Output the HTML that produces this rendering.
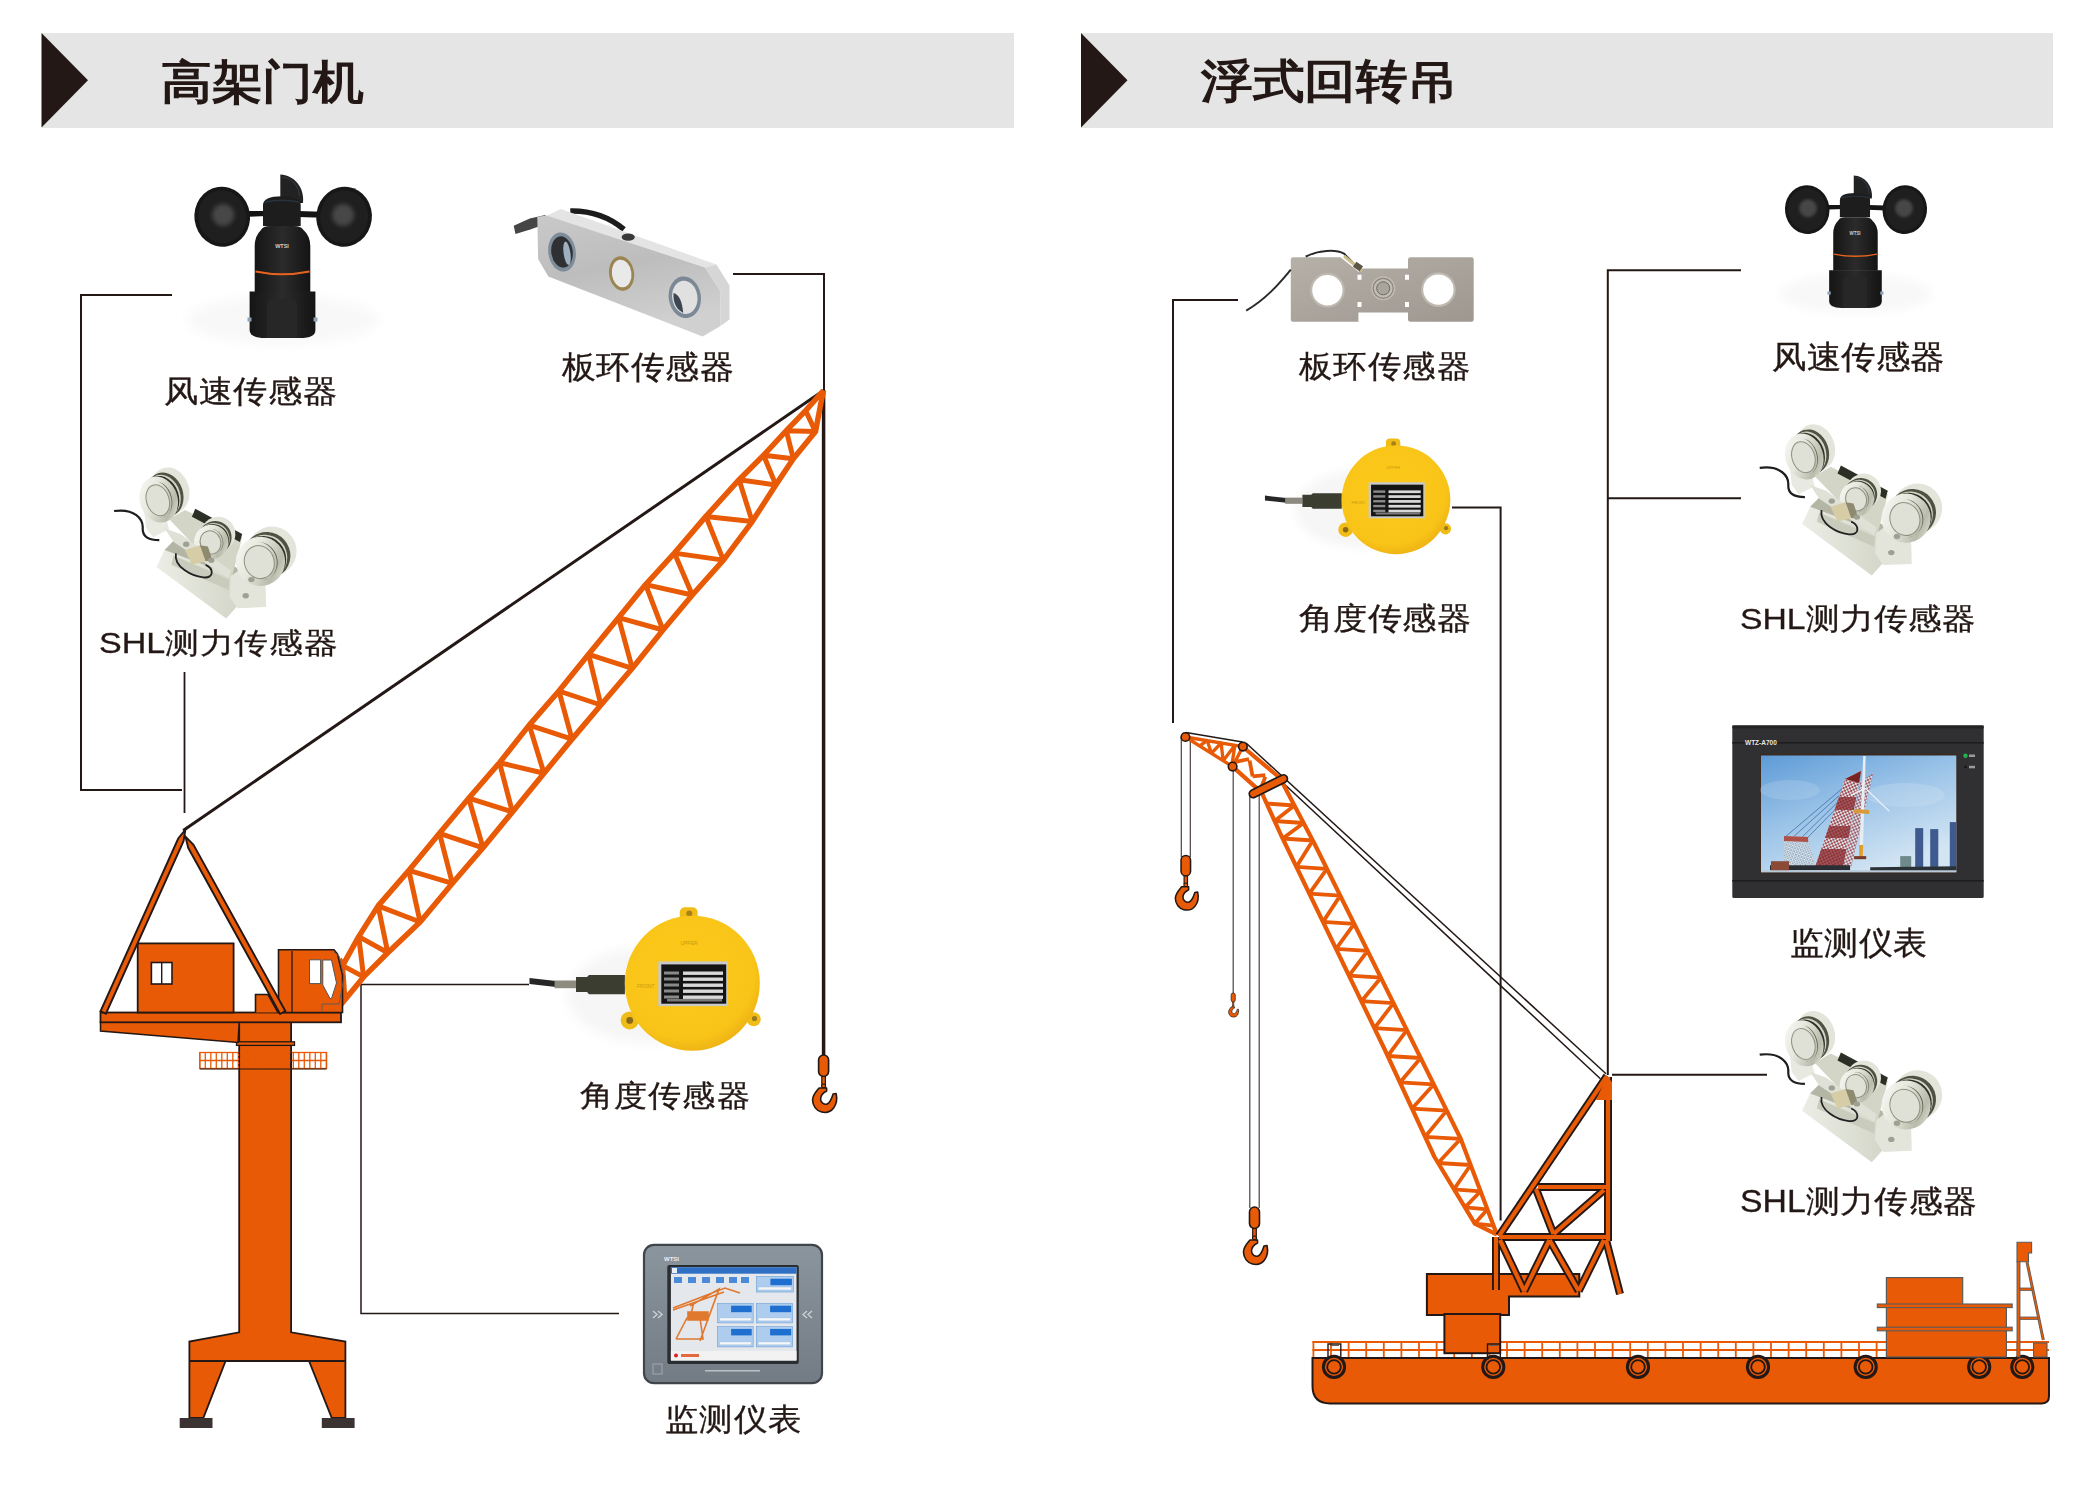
<!DOCTYPE html>
<html><head><meta charset="utf-8">
<style>
html,body{margin:0;padding:0;background:#fff;}
body{width:2097px;height:1487px;position:relative;overflow:hidden;font-family:"Liberation Sans",sans-serif;color:#231815;}
.bar{position:absolute;top:33px;height:94.5px;background:#e5e5e5;}
.t{position:absolute;white-space:nowrap;line-height:1;transform-origin:0 0;}
.title{font-size:51px;font-weight:400;-webkit-text-stroke:1.7px #231815;}
.lab{font-size:34.5px;font-weight:400;-webkit-text-stroke:0.35px #231815;}
svg{position:absolute;left:0;top:0;}
</style></head><body>
<div class="bar" style="left:41.5px;width:972px"></div>
<div class="bar" style="left:1081px;width:972px"></div>
<svg width="2097" height="1487" viewBox="0 0 2097 1487">
<polygon points="41.5,33 88,80.3 41.5,127.5" fill="#231815"/>
<polygon points="1081,33 1127.5,80.3 1081,127.5" fill="#231815"/>
<path d="M172,295 H81 V790 H182" fill="none" stroke="#231815" stroke-width="2"/>
<path d="M184.5,672 V813" fill="none" stroke="#231815" stroke-width="1.8"/>
<path d="M733,274 H824 V390" fill="none" stroke="#231815" stroke-width="2"/>
<path d="M529,984.4 H361 V1313.6 H619" fill="none" stroke="#231815" stroke-width="1.5"/>
<path d="M1238,300 H1173 V723" fill="none" stroke="#231815" stroke-width="2"/>
<path d="M1452,507.6 H1500.6 V1220.5" fill="none" stroke="#231815" stroke-width="2"/>
<path d="M1741,270.3 H1607.8 V1075" fill="none" stroke="#231815" stroke-width="2"/>
<path d="M1608,498.2 H1741" fill="none" stroke="#231815" stroke-width="2"/>
<path d="M1612,1074.7 H1767" fill="none" stroke="#231815" stroke-width="2"/>
<line x1="183.2" y1="830.5" x2="823.5" y2="390.5" stroke="#231815" stroke-width="3"/>
<line x1="823.6" y1="390" x2="823.6" y2="1056" stroke="#231815" stroke-width="3.5"/>
<polyline points="823.5,390.5 805.6,410.6 786.3,430.7 763.6,455.2 739.1,479.7 705.9,516.4 674.4,553.1 645.6,584.6 618.5,617.7 588.6,654.3 558.9,691.0 529.2,725.1 499.5,762.7 468.7,798.2 439.5,833.3 408.8,870.4 378.1,905.9 358.7,936.6 342.6,965.6 339.4,959.0" fill="none" stroke="#e85a06" stroke-width="5.5" stroke-linejoin="round" />
<polyline points="823.5,390.5 821.5,400.0 815.5,431.6 793.3,458.7 775.8,484.9 752.2,521.6 723.4,560.1 692.3,595.0 663.0,630.0 632.3,668.3 600.9,705.0 572.0,739.1 544.0,773.2 512.4,812.0 483.0,847.8 452.4,883.3 420.1,922.0 387.8,952.7 363.6,976.9 341.0,1004.4" fill="none" stroke="#e85a06" stroke-width="5.5" stroke-linejoin="round" />
<path d="M786.3,430.7L815.5,431.6M763.6,455.2L793.3,458.7M739.1,479.7L775.8,484.9M705.9,516.4L752.2,521.6M674.4,553.1L723.4,560.1M645.6,584.6L692.3,595.0M618.5,617.7L663.0,630.0M588.6,654.3L632.3,668.3M558.9,691.0L600.9,705.0M529.2,725.1L572.0,739.1M499.5,762.7L544.0,773.2M468.7,798.2L512.4,812.0M439.5,833.3L483.0,847.8M408.8,870.4L452.4,883.3M378.1,905.9L420.1,922.0M358.7,936.6L387.8,952.7M342.6,965.6L363.6,976.9M805.6,410.6L815.5,431.6M786.3,430.7L793.3,458.7M763.6,455.2L775.8,484.9M739.1,479.7L752.2,521.6M705.9,516.4L723.4,560.1M674.4,553.1L692.3,595.0M645.6,584.6L663.0,630.0M618.5,617.7L632.3,668.3M588.6,654.3L600.9,705.0M558.9,691.0L572.0,739.1M529.2,725.1L544.0,773.2M499.5,762.7L512.4,812.0M468.7,798.2L483.0,847.8M439.5,833.3L452.4,883.3M408.8,870.4L420.1,922.0M378.1,905.9L387.8,952.7M358.7,936.6L363.6,976.9M342.6,965.6L345,1000M340,960L341,1004" fill="none" stroke="#e85a06" stroke-width="5"/>
<g transform="translate(823.6,1055) scale(1.0)">
<rect x="-5" y="0" width="10" height="21.5" rx="5" fill="#e85a06" stroke="#231815" stroke-width="1.6"/>
<rect x="-1.8" y="21.5" width="3.6" height="8" fill="#e85a06" stroke="#231815" stroke-width="1.2"/>
<circle cx="0" cy="31" r="2" fill="#e85a06" stroke="#231815" stroke-width="1.2"/>
<path d="M-4.5,33 L3,33 L3,36 C-1,38 -3,41 -3,44 C-3,48 1,50 3.5,49 C6,48 8,44 9.5,39 L12.5,38.5 C13.5,43 13,49 10,53 C7,57 2,58 -2,57 C-7,56 -11,51 -11,45 C-11,40 -7,36 -4.5,33 Z" fill="#e85a06" stroke="#231815" stroke-width="1.6" stroke-linejoin="round"/>
</g>
<path d="M239.2,1022 V1332.3 L189.4,1341.5 V1418 H203.3 L225.6,1361 H309 L331.8,1418 H345.4 V1341.5 L291.1,1332.3 V1022 Z" fill="#e85a06" stroke="#231815" stroke-width="1.8"/>
<line x1="189.4" y1="1361" x2="345.4" y2="1361" stroke="#231815" stroke-width="1.8"/>
<rect x="179.7" y="1418" width="32.8" height="10" fill="#3b3331"/>
<rect x="321.8" y="1418" width="32.8" height="10" fill="#3b3331"/>
<g stroke="#e85a06" stroke-width="1.3" fill="none"><rect x="199.8" y="1052.5" width="126.8" height="16"/><line x1="199.8" y1="1060.5" x2="326.6" y2="1060.5"/><line x1="199.8" y1="1052.5" x2="199.8" y2="1068.5"/><line x1="205.3" y1="1052.5" x2="205.3" y2="1068.5"/><line x1="210.8" y1="1052.5" x2="210.8" y2="1068.5"/><line x1="216.3" y1="1052.5" x2="216.3" y2="1068.5"/><line x1="221.8" y1="1052.5" x2="221.8" y2="1068.5"/><line x1="227.3" y1="1052.5" x2="227.3" y2="1068.5"/><line x1="232.8" y1="1052.5" x2="232.8" y2="1068.5"/><line x1="238.3" y1="1052.5" x2="238.3" y2="1068.5"/><line x1="243.8" y1="1052.5" x2="243.8" y2="1068.5"/><line x1="249.3" y1="1052.5" x2="249.3" y2="1068.5"/><line x1="254.8" y1="1052.5" x2="254.8" y2="1068.5"/><line x1="260.3" y1="1052.5" x2="260.3" y2="1068.5"/><line x1="265.8" y1="1052.5" x2="265.8" y2="1068.5"/><line x1="271.3" y1="1052.5" x2="271.3" y2="1068.5"/><line x1="276.8" y1="1052.5" x2="276.8" y2="1068.5"/><line x1="282.3" y1="1052.5" x2="282.3" y2="1068.5"/><line x1="287.8" y1="1052.5" x2="287.8" y2="1068.5"/><line x1="293.3" y1="1052.5" x2="293.3" y2="1068.5"/><line x1="298.8" y1="1052.5" x2="298.8" y2="1068.5"/><line x1="304.3" y1="1052.5" x2="304.3" y2="1068.5"/><line x1="309.8" y1="1052.5" x2="309.8" y2="1068.5"/><line x1="315.3" y1="1052.5" x2="315.3" y2="1068.5"/><line x1="320.8" y1="1052.5" x2="320.8" y2="1068.5"/><line x1="326.3" y1="1052.5" x2="326.3" y2="1068.5"/></g>
<line x1="199.8" y1="1069" x2="326.6" y2="1069" stroke="#231815" stroke-width="1.2"/>
<line x1="239.2" y1="1052" x2="239.2" y2="1069" stroke="#231815" stroke-width="1.5" stroke-dasharray="2,2"/>
<line x1="291.1" y1="1052" x2="291.1" y2="1069" stroke="#231815" stroke-width="1.5"/>
<rect x="236.5" y="1041.8" width="58" height="3.6" fill="#e85a06" stroke="#231815" stroke-width="1.3"/>
<path d="M100.5,1022 V1031 L238,1042.5 L239.2,1022 Z" fill="#e85a06" stroke="#231815" stroke-width="1.5"/>
<rect x="100.5" y="1012.5" width="240.5" height="9.8" fill="#e85a06" stroke="#231815" stroke-width="1.8"/>
<rect x="137.7" y="943.4" width="95.9" height="69.1" fill="#e85a06" stroke="#231815" stroke-width="1.8"/>
<rect x="151.4" y="962.5" width="20.6" height="21.5" fill="#fff" stroke="#231815" stroke-width="1.6"/>
<line x1="161.7" y1="962.5" x2="161.7" y2="984" stroke="#231815" stroke-width="1.4"/>
<path d="M255.5,1012.5 V994.5 H268 L278,1012.5" fill="#e85a06" stroke="#231815" stroke-width="1.6"/>
<path d="M278.5,1012.5 V949.8 H334 L337.5,954 L342.5,975 L342.5,1012.5 Z" fill="#e85a06" stroke="#231815" stroke-width="1.6"/>
<line x1="292" y1="951" x2="292" y2="1012.5" stroke="#231815" stroke-width="1.3"/>
<path d="M334,952 L339,956 L344,977 L339,1004 H322 V1012" fill="none" stroke="#6b5b55" stroke-width="1"/>
<rect x="309.5" y="959.8" width="11.1" height="23.8" fill="#fff" stroke="#555" stroke-width="1"/>
<path d="M322.8,960 H331.5 L336.5,983 L331.5,998.5 H330 L322.8,985 Z" fill="#fff" stroke="#555" stroke-width="1"/>
<polygon points="185.5,836.7 188.2,847.8 280.1,1014.0 285.3,1011.0 193.5,844.9" fill="#e85a06" stroke="#231815" stroke-width="1.9" stroke-linejoin="miter"/>
<polygon points="185.4,829.7 178.2,838.5 100.5,1011.3 105.9,1013.7 183.6,840.9" fill="#e85a06" stroke="#231815" stroke-width="1.9" stroke-linejoin="miter"/>
<g stroke="#4a4240" stroke-width="1.2" fill="none"><line x1="1181.3" y1="737" x2="1181.3" y2="857"/><line x1="1190.3" y1="737" x2="1190.3" y2="857"/><line x1="1233.2" y1="767" x2="1233.2" y2="994"/><line x1="1249.8" y1="792" x2="1249.8" y2="1208"/><line x1="1259.2" y1="790" x2="1259.2" y2="1208"/></g>
<g stroke="#231815" stroke-width="1.5" fill="none"><line x1="1186" y1="732.5" x2="1242.5" y2="742"/><line x1="1246" y1="743" x2="1606" y2="1073.7"/><line x1="1281" y1="781" x2="1600.4" y2="1078.7"/></g>
<polyline points="1243.0,747.0 1280.0,778.0 1315.0,844.7 1460.7,1138.8 1497.0,1234.7" fill="none" stroke="#e85a06" stroke-width="4.2" stroke-linejoin="round" />
<polyline points="1232.6,766.6 1261.7,792.6 1281.0,835.0 1384.0,1048.0 1434.5,1157.0 1474.8,1223.6 1497.0,1234.7" fill="none" stroke="#e85a06" stroke-width="4.2" stroke-linejoin="round" />
<path d="M1266.7,803.5L1294.4,805.5M1274.6,821.0L1303.6,823.0M1282.7,838.5L1312.8,840.5M1296.4,866.8L1326.9,868.8M1309.3,893.6L1340.2,895.6M1323.0,921.9L1354.2,923.9M1336.0,948.8L1367.6,950.8M1349.0,975.7L1380.9,977.7M1361.4,1001.2L1393.5,1003.2M1374.4,1028.1L1406.8,1030.1M1387.7,1056.0L1420.7,1058.0M1399.9,1082.4L1433.7,1084.4M1412.1,1108.6L1446.7,1110.6M1425.1,1136.8L1460.7,1138.8M1438.1,1163.0L1470.6,1165.0M1454.0,1189.3L1480.6,1191.3M1465.0,1207.4L1487.4,1209.4M1474.8,1223.6L1493.6,1225.6M1294.4,805.5L1274.6,821.0M1303.6,823.0L1282.7,838.5M1312.8,840.5L1296.4,866.8M1326.9,868.8L1309.3,893.6M1340.2,895.6L1323.0,921.9M1354.2,923.9L1336.0,948.8M1367.6,950.8L1349.0,975.7M1380.9,977.7L1361.4,1001.2M1393.5,1003.2L1374.4,1028.1M1406.8,1030.1L1387.7,1056.0M1420.7,1058.0L1399.9,1082.4M1433.7,1084.4L1412.1,1108.6M1446.7,1110.6L1425.1,1136.8M1460.7,1138.8L1438.1,1163.0M1470.6,1165.0L1454.0,1189.3M1480.6,1191.3L1465.0,1207.4M1487.4,1209.4L1474.8,1223.6M1235.7,761.8L1249,759 M1249.6,760.6L1252.6,776.3 M1252.6,776.3L1265.3,775.1 M1265.3,776.9L1261.1,787.8" fill="none" stroke="#e85a06" stroke-width="3.8"/>
<path d="M1185.4,737 L1242.9,746.6 M1185.4,737 L1232.6,766.6 M1242.9,746.6 L1232.6,766.6M1199.6,745.9 L1207.2,740.6 L1211.4,753.3 L1221.1,743.0 L1223.2,760.7 L1234.9,745.3 M1234.9,745.3 L1231.7,766.0" fill="none" stroke="#e85a06" stroke-width="3.3" stroke-linejoin="round"/>
<circle cx="1185.4" cy="737" r="4.3" fill="#e85a06" stroke="#231815" stroke-width="1.6"/>
<circle cx="1242.9" cy="746.6" r="4.3" fill="#e85a06" stroke="#231815" stroke-width="1.6"/>
<circle cx="1232.6" cy="766.6" r="4.3" fill="#e85a06" stroke="#231815" stroke-width="1.6"/>
<line x1="1253.2" y1="793.8" x2="1283.5" y2="778.7" stroke="#231815" stroke-width="9.5" stroke-linecap="round"/>
<line x1="1253.2" y1="793.8" x2="1283.5" y2="778.7" stroke="#e85a06" stroke-width="6" stroke-linecap="round"/>
<g transform="translate(1185.8,855.5) scale(0.95)">
<rect x="-5" y="0" width="10" height="21.5" rx="5" fill="#e85a06" stroke="#231815" stroke-width="1.6"/>
<rect x="-1.8" y="21.5" width="3.6" height="8" fill="#e85a06" stroke="#231815" stroke-width="1.2"/>
<circle cx="0" cy="31" r="2" fill="#e85a06" stroke="#231815" stroke-width="1.2"/>
<path d="M-4.5,33 L3,33 L3,36 C-1,38 -3,41 -3,44 C-3,48 1,50 3.5,49 C6,48 8,44 9.5,39 L12.5,38.5 C13.5,43 13,49 10,53 C7,57 2,58 -2,57 C-7,56 -11,51 -11,45 C-11,40 -7,36 -4.5,33 Z" fill="#e85a06" stroke="#231815" stroke-width="1.6" stroke-linejoin="round"/>
</g>
<g transform="translate(1254.5,1207) scale(1.0)">
<rect x="-5" y="0" width="10" height="21.5" rx="5" fill="#e85a06" stroke="#231815" stroke-width="1.6"/>
<rect x="-1.8" y="21.5" width="3.6" height="8" fill="#e85a06" stroke="#231815" stroke-width="1.2"/>
<circle cx="0" cy="31" r="2" fill="#e85a06" stroke="#231815" stroke-width="1.2"/>
<path d="M-4.5,33 L3,33 L3,36 C-1,38 -3,41 -3,44 C-3,48 1,50 3.5,49 C6,48 8,44 9.5,39 L12.5,38.5 C13.5,43 13,49 10,53 C7,57 2,58 -2,57 C-7,56 -11,51 -11,45 C-11,40 -7,36 -4.5,33 Z" fill="#e85a06" stroke="#231815" stroke-width="1.6" stroke-linejoin="round"/>
</g>
<g transform="translate(1233.2,993) scale(0.42)">
<rect x="-5" y="0" width="10" height="21.5" rx="5" fill="#e85a06" stroke="#231815" stroke-width="1.6"/>
<rect x="-1.8" y="21.5" width="3.6" height="8" fill="#e85a06" stroke="#231815" stroke-width="1.2"/>
<circle cx="0" cy="31" r="2" fill="#e85a06" stroke="#231815" stroke-width="1.2"/>
<path d="M-4.5,33 L3,33 L3,36 C-1,38 -3,41 -3,44 C-3,48 1,50 3.5,49 C6,48 8,44 9.5,39 L12.5,38.5 C13.5,43 13,49 10,53 C7,57 2,58 -2,57 C-7,56 -11,51 -11,45 C-11,40 -7,36 -4.5,33 Z" fill="#e85a06" stroke="#231815" stroke-width="1.6" stroke-linejoin="round"/>
</g>
<path d="M1426.9,1274 H1579.3 V1296.5 H1509 V1315 H1426.9 Z" fill="#e85a06" stroke="#231815" stroke-width="2"/>
<line x1="1607" y1="1076" x2="1499" y2="1236" stroke="#231815" stroke-width="8"/>
<line x1="1608" y1="1077" x2="1608" y2="1241" stroke="#231815" stroke-width="8"/>
<line x1="1538" y1="1187" x2="1608" y2="1187" stroke="#231815" stroke-width="8"/>
<line x1="1499" y1="1237" x2="1608" y2="1237" stroke="#231815" stroke-width="8"/>
<line x1="1536" y1="1189" x2="1553.5" y2="1234" stroke="#231815" stroke-width="8"/>
<line x1="1553.5" y1="1234" x2="1604" y2="1190" stroke="#231815" stroke-width="8"/>
<line x1="1496" y1="1237" x2="1496" y2="1290" stroke="#231815" stroke-width="8"/>
<line x1="1500" y1="1240" x2="1524.2" y2="1291" stroke="#231815" stroke-width="8"/>
<line x1="1524.2" y1="1291" x2="1549.5" y2="1240" stroke="#231815" stroke-width="8"/>
<line x1="1549.5" y1="1240" x2="1578.7" y2="1291" stroke="#231815" stroke-width="8"/>
<line x1="1578.7" y1="1291" x2="1604" y2="1240" stroke="#231815" stroke-width="8"/>
<line x1="1606" y1="1240" x2="1620" y2="1294" stroke="#231815" stroke-width="8"/>
<line x1="1607" y1="1076" x2="1499" y2="1236" stroke="#e85a06" stroke-width="4.2"/>
<line x1="1608" y1="1077" x2="1608" y2="1241" stroke="#e85a06" stroke-width="4.2"/>
<line x1="1538" y1="1187" x2="1608" y2="1187" stroke="#e85a06" stroke-width="4.2"/>
<line x1="1499" y1="1237" x2="1608" y2="1237" stroke="#e85a06" stroke-width="4.2"/>
<line x1="1536" y1="1189" x2="1553.5" y2="1234" stroke="#e85a06" stroke-width="4.2"/>
<line x1="1553.5" y1="1234" x2="1604" y2="1190" stroke="#e85a06" stroke-width="4.2"/>
<line x1="1496" y1="1237" x2="1496" y2="1290" stroke="#e85a06" stroke-width="4.2"/>
<line x1="1500" y1="1240" x2="1524.2" y2="1291" stroke="#e85a06" stroke-width="4.2"/>
<line x1="1524.2" y1="1291" x2="1549.5" y2="1240" stroke="#e85a06" stroke-width="4.2"/>
<line x1="1549.5" y1="1240" x2="1578.7" y2="1291" stroke="#e85a06" stroke-width="4.2"/>
<line x1="1578.7" y1="1291" x2="1604" y2="1240" stroke="#e85a06" stroke-width="4.2"/>
<line x1="1606" y1="1240" x2="1620" y2="1294" stroke="#e85a06" stroke-width="4.2"/>
<polygon points="1607,1076 1612,1082 1612,1100 1596,1100" fill="#e85a06"/>
<g stroke="#e85a06" stroke-width="1.8" fill="none"><line x1="1312.5" y1="1342" x2="2049" y2="1342"/><line x1="1312.5" y1="1350" x2="2049" y2="1350"/><line x1="1313.4" y1="1341" x2="1313.4" y2="1358"/><line x1="1331.0" y1="1341" x2="1331.0" y2="1358"/><line x1="1348.6" y1="1341" x2="1348.6" y2="1358"/><line x1="1366.2" y1="1341" x2="1366.2" y2="1358"/><line x1="1383.8" y1="1341" x2="1383.8" y2="1358"/><line x1="1401.4" y1="1341" x2="1401.4" y2="1358"/><line x1="1419.0" y1="1341" x2="1419.0" y2="1358"/><line x1="1436.6" y1="1341" x2="1436.6" y2="1358"/><line x1="1454.2" y1="1341" x2="1454.2" y2="1358"/><line x1="1471.8" y1="1341" x2="1471.8" y2="1358"/><line x1="1489.4" y1="1341" x2="1489.4" y2="1358"/><line x1="1507.0" y1="1341" x2="1507.0" y2="1358"/><line x1="1524.6" y1="1341" x2="1524.6" y2="1358"/><line x1="1542.2" y1="1341" x2="1542.2" y2="1358"/><line x1="1559.8" y1="1341" x2="1559.8" y2="1358"/><line x1="1577.4" y1="1341" x2="1577.4" y2="1358"/><line x1="1595.0" y1="1341" x2="1595.0" y2="1358"/><line x1="1612.6" y1="1341" x2="1612.6" y2="1358"/><line x1="1630.2" y1="1341" x2="1630.2" y2="1358"/><line x1="1647.8" y1="1341" x2="1647.8" y2="1358"/><line x1="1665.4" y1="1341" x2="1665.4" y2="1358"/><line x1="1683.0" y1="1341" x2="1683.0" y2="1358"/><line x1="1700.6" y1="1341" x2="1700.6" y2="1358"/><line x1="1718.2" y1="1341" x2="1718.2" y2="1358"/><line x1="1735.8" y1="1341" x2="1735.8" y2="1358"/><line x1="1753.4" y1="1341" x2="1753.4" y2="1358"/><line x1="1771.0" y1="1341" x2="1771.0" y2="1358"/><line x1="1788.6" y1="1341" x2="1788.6" y2="1358"/><line x1="1806.2" y1="1341" x2="1806.2" y2="1358"/><line x1="1823.8" y1="1341" x2="1823.8" y2="1358"/><line x1="1841.4" y1="1341" x2="1841.4" y2="1358"/><line x1="1859.0" y1="1341" x2="1859.0" y2="1358"/><line x1="1876.6" y1="1341" x2="1876.6" y2="1358"/><line x1="1894.2" y1="1341" x2="1894.2" y2="1358"/><line x1="1911.8" y1="1341" x2="1911.8" y2="1358"/><line x1="1929.4" y1="1341" x2="1929.4" y2="1358"/><line x1="1947.0" y1="1341" x2="1947.0" y2="1358"/><line x1="1964.6" y1="1341" x2="1964.6" y2="1358"/><line x1="1982.2" y1="1341" x2="1982.2" y2="1358"/><line x1="1999.8" y1="1341" x2="1999.8" y2="1358"/><line x1="2017.4" y1="1341" x2="2017.4" y2="1358"/><line x1="2035.0" y1="1341" x2="2035.0" y2="1358"/></g>
<rect x="1444.4" y="1314" width="55.8" height="39.2" fill="#e85a06" stroke="#231815" stroke-width="2"/>
<path d="M1312.5,1358 H2049 V1396 Q2049,1403.4 2042,1403.4 H1330 Q1312.5,1403.4 1312.5,1386 Z" fill="#e85a06" stroke="#231815" stroke-width="2"/>
<circle cx="1334" cy="1366.9" r="10.6" fill="#e85a06" stroke="#231815" stroke-width="3"/>
<circle cx="1334" cy="1366.9" r="6.8" fill="#e85a06" stroke="#231815" stroke-width="1.8"/>
<circle cx="1493.3" cy="1366.9" r="10.6" fill="#e85a06" stroke="#231815" stroke-width="3"/>
<circle cx="1493.3" cy="1366.9" r="6.8" fill="#e85a06" stroke="#231815" stroke-width="1.8"/>
<circle cx="1638" cy="1366.9" r="10.6" fill="#e85a06" stroke="#231815" stroke-width="3"/>
<circle cx="1638" cy="1366.9" r="6.8" fill="#e85a06" stroke="#231815" stroke-width="1.8"/>
<circle cx="1758" cy="1366.9" r="10.6" fill="#e85a06" stroke="#231815" stroke-width="3"/>
<circle cx="1758" cy="1366.9" r="6.8" fill="#e85a06" stroke="#231815" stroke-width="1.8"/>
<circle cx="1865.7" cy="1366.9" r="10.6" fill="#e85a06" stroke="#231815" stroke-width="3"/>
<circle cx="1865.7" cy="1366.9" r="6.8" fill="#e85a06" stroke="#231815" stroke-width="1.8"/>
<circle cx="1979.2" cy="1366.9" r="10.6" fill="#e85a06" stroke="#231815" stroke-width="3"/>
<circle cx="1979.2" cy="1366.9" r="6.8" fill="#e85a06" stroke="#231815" stroke-width="1.8"/>
<circle cx="2022.3" cy="1366.9" r="10.6" fill="#e85a06" stroke="#231815" stroke-width="3"/>
<circle cx="2022.3" cy="1366.9" r="6.8" fill="#e85a06" stroke="#231815" stroke-width="1.8"/>
<path d="M1328,1357 V1344 H1340.8 V1357" fill="none" stroke="#231815" stroke-width="1.4"/><path d="M1330,1345.5 H1339" stroke="#6b5b55" stroke-width="1"/>
<path d="M1487.5,1357 V1344 H1500.3 V1357" fill="none" stroke="#231815" stroke-width="1.4"/><path d="M1489.5,1345.5 H1498.5" stroke="#6b5b55" stroke-width="1"/>
<rect x="1886.4" y="1277.6" width="76.3" height="28.8" fill="#e85a06" stroke="#5b5b5b" stroke-width="1.2"/>
<rect x="1886.4" y="1306.4" width="120" height="50.6" fill="#e85a06" stroke="#5b5b5b" stroke-width="1.2"/>
<rect x="1877.3" y="1304" width="134.9" height="3.6" fill="#e85a06" stroke="#5b5b5b" stroke-width="1.1"/>
<rect x="1877.3" y="1327.2" width="134.9" height="3.6" fill="#e85a06" stroke="#5b5b5b" stroke-width="1.1"/>
<path d="M2017,1242.3 H2031.6 V1253 H2028.5 V1261.7 H2017 Z" fill="#e85a06" stroke="#5b5b5b" stroke-width="1.1"/>
<rect x="2017" y="1261.7" width="3" height="95.3" fill="#e85a06" stroke="#5b5b5b" stroke-width="0.9"/>
<line x1="2027" y1="1262" x2="2043.3" y2="1340" stroke="#5b5b5b" stroke-width="3"/>
<line x1="2027" y1="1262" x2="2043.3" y2="1340" stroke="#e85a06" stroke-width="1.4"/>
<rect x="2020" y="1288" width="12" height="2.5" fill="#e85a06" stroke="#5b5b5b" stroke-width="0.8"/>
<rect x="2020" y="1317" width="18" height="2.5" fill="#e85a06" stroke="#5b5b5b" stroke-width="0.8"/>
<rect x="2033.6" y="1343" width="13.4" height="14" fill="#e85a06" stroke="#5b5b5b" stroke-width="1.1"/>
<defs>
<radialGradient id="cupg" cx="0.5" cy="0.45" r="0.5"><stop offset="0" stop-color="#505050"/><stop offset="0.45" stop-color="#3a3a3a"/><stop offset="0.7" stop-color="#1b1b1b"/><stop offset="1" stop-color="#121212"/></radialGradient>
<linearGradient id="bodyg" x1="0" x2="1" y1="0" y2="0"><stop offset="0" stop-color="#151515"/><stop offset="0.5" stop-color="#2b2b2b"/><stop offset="1" stop-color="#141414"/></linearGradient>
<radialGradient id="shadowg" cx="0.5" cy="0.5" r="0.5"><stop offset="0" stop-color="#e9e9e9"/><stop offset="1" stop-color="#ffffff" stop-opacity="0"/></radialGradient>
<linearGradient id="platef" x1="0" x2="0.3" y1="0" y2="1"><stop offset="0" stop-color="#c9c9c9"/><stop offset="0.5" stop-color="#bdbdbd"/><stop offset="1" stop-color="#d0d0d0"/></linearGradient>
<linearGradient id="plate2" x1="0" x2="1" y1="0" y2="1"><stop offset="0" stop-color="#b5b0a8"/><stop offset="1" stop-color="#9d978f"/></linearGradient>
<radialGradient id="yel" cx="0.45" cy="0.4" r="0.6"><stop offset="0" stop-color="#fcca1a"/><stop offset="0.85" stop-color="#f9c418"/><stop offset="1" stop-color="#f0b514"/></radialGradient>
<linearGradient id="metal" x1="0" x2="1" y1="0" y2="1"><stop offset="0" stop-color="#e2e3da"/><stop offset="0.5" stop-color="#bfc1b3"/><stop offset="1" stop-color="#d9dad0"/></linearGradient>
<linearGradient id="sky" x1="0" x2="0" y1="0" y2="1"><stop offset="0" stop-color="#6ea3d9"/><stop offset="0.6" stop-color="#a9cbeb"/><stop offset="1" stop-color="#d2e4f2"/></linearGradient>
<linearGradient id="mon1" x1="0" x2="0" y1="0" y2="1"><stop offset="0" stop-color="#8b959d"/><stop offset="1" stop-color="#737c84"/></linearGradient>
<linearGradient id="shlw" x1="0" x2="1" y1="0" y2="1"><stop offset="0" stop-color="#fafbf7"/><stop offset="0.4" stop-color="#e6e8de"/><stop offset="0.75" stop-color="#b9bcab"/><stop offset="1" stop-color="#eef0e8"/></linearGradient>
<linearGradient id="shlb" x1="0" x2="1" y1="0" y2="0"><stop offset="0" stop-color="#eceee6"/><stop offset="1" stop-color="#d3d6c8"/></linearGradient><linearGradient id="sky2" x1="0" x2="0.6" y1="0" y2="1"><stop offset="0" stop-color="#5d9bd7"/><stop offset="0.5" stop-color="#9cc4e8"/><stop offset="1" stop-color="#d3e5f3"/></linearGradient>
<pattern id="latt" width="4" height="4" patternUnits="userSpaceOnUse" patternTransform="rotate(20)"><rect width="4" height="4" fill="#dde4ec"/><path d="M0,0 L4,4 M4,0 L0,4" stroke="#9a3a3e" stroke-width="0.9"/></pattern>
<pattern id="latt2" width="3" height="3" patternUnits="userSpaceOnUse" patternTransform="rotate(20)"><rect width="3" height="3" fill="#dfe8f0"/><path d="M0,0 L3,3 M3,0 L0,3" stroke="#8aa0b8" stroke-width="0.7"/></pattern><filter id="blur2" x="-50%" y="-50%" width="200%" height="200%"><feGaussianBlur stdDeviation="2"/></filter>
<filter id="blur6" x="-50%" y="-50%" width="200%" height="200%"><feGaussianBlur stdDeviation="6"/></filter>
</defs>
<g>
<ellipse cx="283" cy="320" rx="95" ry="24" fill="#f8f8f8" filter="url(#blur6)"/>
<path d="M280.3,174.6 C294,175.2 304.5,187 303,203 L280.3,203 Z" fill="#222"/><path d="M282,177 C292,178 299,186 299.5,196" fill="none" stroke="#3a4a5a" stroke-width="1.2" opacity="0.6"/>
<path d="M240,211 L268,211 L268,216 L240,217 Z M298,211 L330,212 L330,218 L298,217 Z" fill="#141414"/>
<ellipse cx="222.2" cy="216.7" rx="27.8" ry="30" transform="rotate(-8 222.2 216.7)" fill="#171717"/>
<ellipse cx="222.2" cy="216.7" rx="24" ry="26.5" transform="rotate(-8 222.2 216.7)" fill="#1f1f1f"/>
<circle cx="223.2" cy="215" r="11" fill="#474747" filter="url(#blur2)"/>
<ellipse cx="344.1" cy="216.7" rx="27.8" ry="30" transform="rotate(8 344.1 216.7)" fill="#171717"/>
<ellipse cx="344.1" cy="216.7" rx="24" ry="26.5" transform="rotate(8 344.1 216.7)" fill="#1f1f1f"/>
<circle cx="343.1" cy="215" r="11" fill="#474747" filter="url(#blur2)"/>
<path d="M263,226 V205 Q263,196.3 282,196.3 Q300.7,196.3 300.7,205 V226 Z" fill="#1d1d1d"/>
<path d="M265,202 Q282,198.5 299,202" fill="none" stroke="#2f4257" stroke-width="1.5" opacity="0.6"/>
<path d="M254.7,292 V246 Q254.7,236 261,230 Q263,226 270,226 H294 Q301,226 303.5,230 Q310.3,236 310.3,246 V292 Z" fill="url(#bodyg)"/>
<path d="M255.5,271.5 Q282.5,277 309.5,271.5" fill="none" stroke="#e8641e" stroke-width="1.8"/>
<path d="M249.6,291.5 H315.4 V330 Q315.4,338 300,338 H265 Q249.6,338 249.6,330 Z" fill="url(#bodyg)"/>
<path d="M267,338 V305 Q267,299 273,299 H291 Q297,299 297,305 V338 Z" fill="#272727"/>
<rect x="247.5" y="317.5" width="4" height="4" fill="#8fa3b8"/><rect x="313.5" y="317.5" width="4" height="4" fill="#8fa3b8"/>
<text x="282" y="248" font-size="5.5" font-weight="bold" fill="#d0d0d0" text-anchor="middle" font-family="Liberation Sans">WTSI</text>
</g>
<g transform="translate(1856,209.6) scale(0.8,0.812) translate(-283.15,-216.7)"><g>
<ellipse cx="283" cy="320" rx="95" ry="24" fill="#f8f8f8" filter="url(#blur6)"/>
<path d="M280.3,174.6 C294,175.2 304.5,187 303,203 L280.3,203 Z" fill="#222"/><path d="M282,177 C292,178 299,186 299.5,196" fill="none" stroke="#3a4a5a" stroke-width="1.2" opacity="0.6"/>
<path d="M240,211 L268,211 L268,216 L240,217 Z M298,211 L330,212 L330,218 L298,217 Z" fill="#141414"/>
<ellipse cx="222.2" cy="216.7" rx="27.8" ry="30" transform="rotate(-8 222.2 216.7)" fill="#171717"/>
<ellipse cx="222.2" cy="216.7" rx="24" ry="26.5" transform="rotate(-8 222.2 216.7)" fill="#1f1f1f"/>
<circle cx="223.2" cy="215" r="11" fill="#474747" filter="url(#blur2)"/>
<ellipse cx="344.1" cy="216.7" rx="27.8" ry="30" transform="rotate(8 344.1 216.7)" fill="#171717"/>
<ellipse cx="344.1" cy="216.7" rx="24" ry="26.5" transform="rotate(8 344.1 216.7)" fill="#1f1f1f"/>
<circle cx="343.1" cy="215" r="11" fill="#474747" filter="url(#blur2)"/>
<path d="M263,226 V205 Q263,196.3 282,196.3 Q300.7,196.3 300.7,205 V226 Z" fill="#1d1d1d"/>
<path d="M265,202 Q282,198.5 299,202" fill="none" stroke="#2f4257" stroke-width="1.5" opacity="0.6"/>
<path d="M254.7,292 V246 Q254.7,236 261,230 Q263,226 270,226 H294 Q301,226 303.5,230 Q310.3,236 310.3,246 V292 Z" fill="url(#bodyg)"/>
<path d="M255.5,271.5 Q282.5,277 309.5,271.5" fill="none" stroke="#e8641e" stroke-width="1.8"/>
<path d="M249.6,291.5 H315.4 V330 Q315.4,338 300,338 H265 Q249.6,338 249.6,330 Z" fill="url(#bodyg)"/>
<path d="M267,338 V305 Q267,299 273,299 H291 Q297,299 297,305 V338 Z" fill="#272727"/>
<rect x="247.5" y="317.5" width="4" height="4" fill="#8fa3b8"/><rect x="313.5" y="317.5" width="4" height="4" fill="#8fa3b8"/>
<text x="282" y="248" font-size="5.5" font-weight="bold" fill="#d0d0d0" text-anchor="middle" font-family="Liberation Sans">WTSI</text>
</g></g>
<g>
<polygon points="513.7,225.8 529.8,218.6 545.3,215.0 547.1,223.4 531.0,229.3 515.5,234.1" fill="#454545"/>
<path d="M570.3,210.9 Q601.3,210.3 624.0,229.3" fill="none" stroke="#1c1c1c" stroke-width="5.5"/>
<polygon points="547.1,215.6 560.8,209.1 716.4,264.5 705.1,267.5" fill="#e4e4e4"/>
<polygon points="537.3,216.8 547.1,215.6 705.1,267.5 720.6,291.3 720.6,325.9 702.7,336.6 548.3,276.4 538.1,259.1" fill="url(#platef)"/>
<polygon points="705.1,267.5 716.4,264.5 729.5,285.4 729.5,319.4 720.6,325.9 720.6,291.3" fill="#d6d6d6"/>
<ellipse cx="562.0" cy="252.0" rx="13.7" ry="19.7" fill="#7f8c99" transform="rotate(-8 562.0 252.0)"/>
<ellipse cx="562.0" cy="252.0" rx="10.7" ry="15.7" fill="#2e3033" transform="rotate(-8 562.0 252.0)"/>
<ellipse cx="621.6" cy="273.5" rx="12.5" ry="17.3" fill="#9b8550" transform="rotate(-8 621.6 273.5)"/>
<ellipse cx="621.6" cy="273.5" rx="9.8" ry="13.8" fill="#e9e9e9" transform="rotate(-8 621.6 273.5)"/>
<ellipse cx="684.8" cy="297.3" rx="16.1" ry="20.9" fill="#7b8896" transform="rotate(-8 684.8 297.3)"/>
<ellipse cx="684.8" cy="297.3" rx="12.6" ry="16.7" fill="#e0e0e0" transform="rotate(-8 684.8 297.3)"/>
<path d="M673.5,293.1 Q681.6,295.2 683.2,312.9 Q672.7,307.7 673.5,293.1 Z" fill="#3d4650"/>
<ellipse cx="566.8" cy="254.0" rx="3.4" ry="11.8" fill="#9fb0c0" transform="rotate(-8 562.0 252.0)"/>
<ellipse cx="628.2" cy="237.1" rx="6.6" ry="3.6" fill="#3a3a3a"/>
</g>
<g>
<path d="M1358.4,321.8 H1293 Q1290.8,321.8 1290.8,319.5 V259.5 Q1290.8,257.3 1293,257.3 H1340.5 L1359,272 V268.5 H1408 V259.5 Q1408,257.3 1410.5,257.3 H1471.5 Q1473.7,257.3 1473.7,259.5 V319.5 Q1473.7,321.8 1471.5,321.8 H1410.5 Q1408,321.8 1408,319.5 V312.5 H1358.4 Z" fill="url(#plate2)"/>
<circle cx="1327.4" cy="290.2" r="17.4" fill="#bdb8b0"/><circle cx="1438.4" cy="289.6" r="17.4" fill="#bdb8b0"/>
<circle cx="1327.4" cy="290.2" r="15.2" fill="#fff"/><circle cx="1438.4" cy="289.6" r="15.2" fill="#fff"/>
<circle cx="1383.2" cy="288.3" r="12" fill="#c1bcb4"/><circle cx="1383.2" cy="288.3" r="10" fill="none" stroke="#8a857d" stroke-width="1.2"/><circle cx="1383.2" cy="288.3" r="6.5" fill="#a9a49c" stroke="#6f6a62" stroke-width="1"/>
<path d="M1357.5,274.7 h4 v5 h-4 z M1357.5,302 h4 v5 h-4 z M1405,274.7 h4 v5 h-4 z M1405,302 h4 v5 h-4 z" fill="#fff"/>
<path d="M1246.2,310.6 C1268,298 1282,280 1290.8,269.7 M1305.7,256.7 C1318,250 1336,249 1344,253.6 L1354,264" fill="none" stroke="#2a2a2a" stroke-width="2"/>
<path d="M1344,256 L1362,271" stroke="#c9bd8a" stroke-width="3"/><rect x="1354" y="263.5" width="8" height="6" transform="rotate(35 1358 266.5)" fill="#5a5545"/>
</g>
<g>
<polygon points="156.5,567.1 164.5,549.9 237.6,577.4 236.5,607.1 226.2,618.5" fill="url(#shlb)"/>
<polygon points="164.5,549.9 179.3,535.0 239.9,569.4 237.6,577.4" fill="#b3b6a5"/>
<polygon points="173.6,555.6 229.6,579.6 228.5,589.9 171.3,564.8" fill="#c9ccbd"/>
<polygon points="141.6,489.3 158.7,488.2 169.0,529.3 153.0,537.3 146.2,528.2" fill="#e8eae1"/>
<ellipse cx="170.2" cy="490.4" rx="18.9" ry="23.4" transform="rotate(-18 170.2 490.4)" fill="#e3e5da" />
<ellipse cx="165.0" cy="494.6" rx="18.1" ry="22.5" transform="rotate(-18 165.0 494.6)" fill="#4f5243" />
<ellipse cx="163.3" cy="495.9" rx="17.0" ry="21.6" transform="rotate(-18 163.3 495.9)" fill="#d2d4c6" />
<ellipse cx="161.0" cy="497.8" rx="17.9" ry="22.3" transform="rotate(-18 161.0 497.8)" fill="#2f3228" />
<ellipse cx="158.7" cy="499.6" rx="18.9" ry="23.4" transform="rotate(-18 158.7 499.6)" fill="url(#shlw)" />
<g transform="rotate(-18 158.7 499.6)"><path d="M161.5,481.3 A13.6,18.3 0 0 1 154.7,517.3 A11.5,16.5 0 0 0 161.5,481.3 Z" fill="#5d604f"/></g>
<ellipse cx="157.8" cy="500.3" rx="11.3" ry="15.9" transform="rotate(-18 157.8 500.3)" fill="#dfe1d6" />
<ellipse cx="157.8" cy="500.3" rx="11.3" ry="15.9" transform="rotate(-18 157.8 500.3)" fill="none" stroke="#8d907f" stroke-width="1"/>
<polygon points="169.0,519.0 185.0,509.9 242.2,537.3 239.9,546.5 231.9,577.4 223.9,576.2" fill="#d3d6c6"/>
<polygon points="195.3,508.7 242.2,533.9 239.9,541.9 191.9,516.7" fill="#2c2f25"/>
<ellipse cx="218.2" cy="533.9" rx="17.2" ry="17.2" transform="rotate(-20 218.2 533.9)" fill="#e3e5da" />
<ellipse cx="215.1" cy="537.5" rx="16.5" ry="16.5" transform="rotate(-20 215.1 537.5)" fill="#4f5243" />
<ellipse cx="214.1" cy="538.7" rx="15.4" ry="15.8" transform="rotate(-20 214.1 538.7)" fill="#d2d4c6" />
<ellipse cx="212.7" cy="540.3" rx="16.3" ry="16.3" transform="rotate(-20 212.7 540.3)" fill="#2f3228" />
<ellipse cx="211.3" cy="541.9" rx="17.2" ry="17.2" transform="rotate(-20 211.3 541.9)" fill="url(#shlw)" />
<g transform="rotate(-20 211.3 541.9)"><path d="M213.8,528.5 A12.3,13.4 0 0 1 207.6,554.9 A10.5,12.0 0 0 0 213.8,528.5 Z" fill="#5d604f"/></g>
<ellipse cx="210.5" cy="542.4" rx="10.3" ry="11.7" transform="rotate(-20 210.5 542.4)" fill="#dfe1d6" />
<ellipse cx="210.5" cy="542.4" rx="10.3" ry="11.7" transform="rotate(-20 210.5 542.4)" fill="none" stroke="#8d907f" stroke-width="1"/>
<polygon points="164.5,528.2 180.5,533.9 230.8,570.5 228.5,578.5 173.6,541.9" fill="#dfe1d6"/>
<polygon points="230.8,576.2 249.1,562.5 265.1,569.4 266.2,607.1 237.6,608.2 229.6,596.8" fill="#e3e5db"/>
<ellipse cx="272.0" cy="551.1" rx="24.6" ry="24.6" transform="rotate(-20 272.0 551.1)" fill="#e3e5da" />
<ellipse cx="266.8" cy="555.7" rx="23.6" ry="23.6" transform="rotate(-20 266.8 555.7)" fill="#4f5243" />
<ellipse cx="265.1" cy="557.2" rx="22.1" ry="22.6" transform="rotate(-20 265.1 557.2)" fill="#d2d4c6" />
<ellipse cx="262.8" cy="559.3" rx="23.4" ry="23.4" transform="rotate(-20 262.8 559.3)" fill="#2f3228" />
<ellipse cx="260.5" cy="561.3" rx="24.6" ry="24.6" transform="rotate(-20 260.5 561.3)" fill="url(#shlw)" />
<g transform="rotate(-20 260.5 561.3)"><path d="M264.1,542.2 A17.7,19.2 0 0 1 255.2,579.9 A15.0,17.3 0 0 0 264.1,542.2 Z" fill="#5d604f"/></g>
<ellipse cx="259.3" cy="562.1" rx="14.8" ry="16.7" transform="rotate(-20 259.3 562.1)" fill="#dfe1d6" />
<ellipse cx="259.3" cy="562.1" rx="14.8" ry="16.7" transform="rotate(-20 259.3 562.1)" fill="none" stroke="#8d907f" stroke-width="1"/>
<polygon points="185.0,549.9 199.9,545.3 205.6,561.3 191.9,564.8" fill="#d6cda6"/>
<polygon points="199.9,545.3 207.9,546.5 212.5,560.2 205.6,561.3" fill="#8d8a70"/>
<ellipse cx="251.4" cy="579.6" rx="3.2" ry="2.7" transform="rotate(0 251.4 579.6)" fill="#9ea092" />
<ellipse cx="245.7" cy="595.7" rx="3.2" ry="2.7" transform="rotate(0 245.7 595.7)" fill="#9ea092" />
<ellipse cx="186.2" cy="544.2" rx="3.2" ry="2.7" transform="rotate(0 186.2 544.2)" fill="#9ea092" />
<ellipse cx="211.3" cy="560.2" rx="3.2" ry="2.7" transform="rotate(0 211.3 560.2)" fill="#9ea092" />
<path d="M114.1,511.0 C134.7,508.2 143.3,519.0 142.7,528.2 C142.2,537.3 149.6,540.2 159.3,540.2 " fill="none" stroke="#1e1e1e" stroke-width="2.2"/>
<path d="M175.9,553.3 C173.6,567.1 191.9,576.2 203.3,577.4 C214.8,578.5 213.6,568.2 205.6,564.8 " fill="none" stroke="#222" stroke-width="1.8"/>
</g>
<g transform="translate(1645.6,-43.1)"><g>
<polygon points="156.5,567.1 164.5,549.9 237.6,577.4 236.5,607.1 226.2,618.5" fill="url(#shlb)"/>
<polygon points="164.5,549.9 179.3,535.0 239.9,569.4 237.6,577.4" fill="#b3b6a5"/>
<polygon points="173.6,555.6 229.6,579.6 228.5,589.9 171.3,564.8" fill="#c9ccbd"/>
<polygon points="141.6,489.3 158.7,488.2 169.0,529.3 153.0,537.3 146.2,528.2" fill="#e8eae1"/>
<ellipse cx="170.2" cy="490.4" rx="18.9" ry="23.4" transform="rotate(-18 170.2 490.4)" fill="#e3e5da" />
<ellipse cx="165.0" cy="494.6" rx="18.1" ry="22.5" transform="rotate(-18 165.0 494.6)" fill="#4f5243" />
<ellipse cx="163.3" cy="495.9" rx="17.0" ry="21.6" transform="rotate(-18 163.3 495.9)" fill="#d2d4c6" />
<ellipse cx="161.0" cy="497.8" rx="17.9" ry="22.3" transform="rotate(-18 161.0 497.8)" fill="#2f3228" />
<ellipse cx="158.7" cy="499.6" rx="18.9" ry="23.4" transform="rotate(-18 158.7 499.6)" fill="url(#shlw)" />
<g transform="rotate(-18 158.7 499.6)"><path d="M161.5,481.3 A13.6,18.3 0 0 1 154.7,517.3 A11.5,16.5 0 0 0 161.5,481.3 Z" fill="#5d604f"/></g>
<ellipse cx="157.8" cy="500.3" rx="11.3" ry="15.9" transform="rotate(-18 157.8 500.3)" fill="#dfe1d6" />
<ellipse cx="157.8" cy="500.3" rx="11.3" ry="15.9" transform="rotate(-18 157.8 500.3)" fill="none" stroke="#8d907f" stroke-width="1"/>
<polygon points="169.0,519.0 185.0,509.9 242.2,537.3 239.9,546.5 231.9,577.4 223.9,576.2" fill="#d3d6c6"/>
<polygon points="195.3,508.7 242.2,533.9 239.9,541.9 191.9,516.7" fill="#2c2f25"/>
<ellipse cx="218.2" cy="533.9" rx="17.2" ry="17.2" transform="rotate(-20 218.2 533.9)" fill="#e3e5da" />
<ellipse cx="215.1" cy="537.5" rx="16.5" ry="16.5" transform="rotate(-20 215.1 537.5)" fill="#4f5243" />
<ellipse cx="214.1" cy="538.7" rx="15.4" ry="15.8" transform="rotate(-20 214.1 538.7)" fill="#d2d4c6" />
<ellipse cx="212.7" cy="540.3" rx="16.3" ry="16.3" transform="rotate(-20 212.7 540.3)" fill="#2f3228" />
<ellipse cx="211.3" cy="541.9" rx="17.2" ry="17.2" transform="rotate(-20 211.3 541.9)" fill="url(#shlw)" />
<g transform="rotate(-20 211.3 541.9)"><path d="M213.8,528.5 A12.3,13.4 0 0 1 207.6,554.9 A10.5,12.0 0 0 0 213.8,528.5 Z" fill="#5d604f"/></g>
<ellipse cx="210.5" cy="542.4" rx="10.3" ry="11.7" transform="rotate(-20 210.5 542.4)" fill="#dfe1d6" />
<ellipse cx="210.5" cy="542.4" rx="10.3" ry="11.7" transform="rotate(-20 210.5 542.4)" fill="none" stroke="#8d907f" stroke-width="1"/>
<polygon points="164.5,528.2 180.5,533.9 230.8,570.5 228.5,578.5 173.6,541.9" fill="#dfe1d6"/>
<polygon points="230.8,576.2 249.1,562.5 265.1,569.4 266.2,607.1 237.6,608.2 229.6,596.8" fill="#e3e5db"/>
<ellipse cx="272.0" cy="551.1" rx="24.6" ry="24.6" transform="rotate(-20 272.0 551.1)" fill="#e3e5da" />
<ellipse cx="266.8" cy="555.7" rx="23.6" ry="23.6" transform="rotate(-20 266.8 555.7)" fill="#4f5243" />
<ellipse cx="265.1" cy="557.2" rx="22.1" ry="22.6" transform="rotate(-20 265.1 557.2)" fill="#d2d4c6" />
<ellipse cx="262.8" cy="559.3" rx="23.4" ry="23.4" transform="rotate(-20 262.8 559.3)" fill="#2f3228" />
<ellipse cx="260.5" cy="561.3" rx="24.6" ry="24.6" transform="rotate(-20 260.5 561.3)" fill="url(#shlw)" />
<g transform="rotate(-20 260.5 561.3)"><path d="M264.1,542.2 A17.7,19.2 0 0 1 255.2,579.9 A15.0,17.3 0 0 0 264.1,542.2 Z" fill="#5d604f"/></g>
<ellipse cx="259.3" cy="562.1" rx="14.8" ry="16.7" transform="rotate(-20 259.3 562.1)" fill="#dfe1d6" />
<ellipse cx="259.3" cy="562.1" rx="14.8" ry="16.7" transform="rotate(-20 259.3 562.1)" fill="none" stroke="#8d907f" stroke-width="1"/>
<polygon points="185.0,549.9 199.9,545.3 205.6,561.3 191.9,564.8" fill="#d6cda6"/>
<polygon points="199.9,545.3 207.9,546.5 212.5,560.2 205.6,561.3" fill="#8d8a70"/>
<ellipse cx="251.4" cy="579.6" rx="3.2" ry="2.7" transform="rotate(0 251.4 579.6)" fill="#9ea092" />
<ellipse cx="245.7" cy="595.7" rx="3.2" ry="2.7" transform="rotate(0 245.7 595.7)" fill="#9ea092" />
<ellipse cx="186.2" cy="544.2" rx="3.2" ry="2.7" transform="rotate(0 186.2 544.2)" fill="#9ea092" />
<ellipse cx="211.3" cy="560.2" rx="3.2" ry="2.7" transform="rotate(0 211.3 560.2)" fill="#9ea092" />
<path d="M114.1,511.0 C134.7,508.2 143.3,519.0 142.7,528.2 C142.2,537.3 149.6,540.2 159.3,540.2 " fill="none" stroke="#1e1e1e" stroke-width="2.2"/>
<path d="M175.9,553.3 C173.6,567.1 191.9,576.2 203.3,577.4 C214.8,578.5 213.6,568.2 205.6,564.8 " fill="none" stroke="#222" stroke-width="1.8"/>
</g></g>
<g transform="translate(1645.6,543.7)"><g>
<polygon points="156.5,567.1 164.5,549.9 237.6,577.4 236.5,607.1 226.2,618.5" fill="url(#shlb)"/>
<polygon points="164.5,549.9 179.3,535.0 239.9,569.4 237.6,577.4" fill="#b3b6a5"/>
<polygon points="173.6,555.6 229.6,579.6 228.5,589.9 171.3,564.8" fill="#c9ccbd"/>
<polygon points="141.6,489.3 158.7,488.2 169.0,529.3 153.0,537.3 146.2,528.2" fill="#e8eae1"/>
<ellipse cx="170.2" cy="490.4" rx="18.9" ry="23.4" transform="rotate(-18 170.2 490.4)" fill="#e3e5da" />
<ellipse cx="165.0" cy="494.6" rx="18.1" ry="22.5" transform="rotate(-18 165.0 494.6)" fill="#4f5243" />
<ellipse cx="163.3" cy="495.9" rx="17.0" ry="21.6" transform="rotate(-18 163.3 495.9)" fill="#d2d4c6" />
<ellipse cx="161.0" cy="497.8" rx="17.9" ry="22.3" transform="rotate(-18 161.0 497.8)" fill="#2f3228" />
<ellipse cx="158.7" cy="499.6" rx="18.9" ry="23.4" transform="rotate(-18 158.7 499.6)" fill="url(#shlw)" />
<g transform="rotate(-18 158.7 499.6)"><path d="M161.5,481.3 A13.6,18.3 0 0 1 154.7,517.3 A11.5,16.5 0 0 0 161.5,481.3 Z" fill="#5d604f"/></g>
<ellipse cx="157.8" cy="500.3" rx="11.3" ry="15.9" transform="rotate(-18 157.8 500.3)" fill="#dfe1d6" />
<ellipse cx="157.8" cy="500.3" rx="11.3" ry="15.9" transform="rotate(-18 157.8 500.3)" fill="none" stroke="#8d907f" stroke-width="1"/>
<polygon points="169.0,519.0 185.0,509.9 242.2,537.3 239.9,546.5 231.9,577.4 223.9,576.2" fill="#d3d6c6"/>
<polygon points="195.3,508.7 242.2,533.9 239.9,541.9 191.9,516.7" fill="#2c2f25"/>
<ellipse cx="218.2" cy="533.9" rx="17.2" ry="17.2" transform="rotate(-20 218.2 533.9)" fill="#e3e5da" />
<ellipse cx="215.1" cy="537.5" rx="16.5" ry="16.5" transform="rotate(-20 215.1 537.5)" fill="#4f5243" />
<ellipse cx="214.1" cy="538.7" rx="15.4" ry="15.8" transform="rotate(-20 214.1 538.7)" fill="#d2d4c6" />
<ellipse cx="212.7" cy="540.3" rx="16.3" ry="16.3" transform="rotate(-20 212.7 540.3)" fill="#2f3228" />
<ellipse cx="211.3" cy="541.9" rx="17.2" ry="17.2" transform="rotate(-20 211.3 541.9)" fill="url(#shlw)" />
<g transform="rotate(-20 211.3 541.9)"><path d="M213.8,528.5 A12.3,13.4 0 0 1 207.6,554.9 A10.5,12.0 0 0 0 213.8,528.5 Z" fill="#5d604f"/></g>
<ellipse cx="210.5" cy="542.4" rx="10.3" ry="11.7" transform="rotate(-20 210.5 542.4)" fill="#dfe1d6" />
<ellipse cx="210.5" cy="542.4" rx="10.3" ry="11.7" transform="rotate(-20 210.5 542.4)" fill="none" stroke="#8d907f" stroke-width="1"/>
<polygon points="164.5,528.2 180.5,533.9 230.8,570.5 228.5,578.5 173.6,541.9" fill="#dfe1d6"/>
<polygon points="230.8,576.2 249.1,562.5 265.1,569.4 266.2,607.1 237.6,608.2 229.6,596.8" fill="#e3e5db"/>
<ellipse cx="272.0" cy="551.1" rx="24.6" ry="24.6" transform="rotate(-20 272.0 551.1)" fill="#e3e5da" />
<ellipse cx="266.8" cy="555.7" rx="23.6" ry="23.6" transform="rotate(-20 266.8 555.7)" fill="#4f5243" />
<ellipse cx="265.1" cy="557.2" rx="22.1" ry="22.6" transform="rotate(-20 265.1 557.2)" fill="#d2d4c6" />
<ellipse cx="262.8" cy="559.3" rx="23.4" ry="23.4" transform="rotate(-20 262.8 559.3)" fill="#2f3228" />
<ellipse cx="260.5" cy="561.3" rx="24.6" ry="24.6" transform="rotate(-20 260.5 561.3)" fill="url(#shlw)" />
<g transform="rotate(-20 260.5 561.3)"><path d="M264.1,542.2 A17.7,19.2 0 0 1 255.2,579.9 A15.0,17.3 0 0 0 264.1,542.2 Z" fill="#5d604f"/></g>
<ellipse cx="259.3" cy="562.1" rx="14.8" ry="16.7" transform="rotate(-20 259.3 562.1)" fill="#dfe1d6" />
<ellipse cx="259.3" cy="562.1" rx="14.8" ry="16.7" transform="rotate(-20 259.3 562.1)" fill="none" stroke="#8d907f" stroke-width="1"/>
<polygon points="185.0,549.9 199.9,545.3 205.6,561.3 191.9,564.8" fill="#d6cda6"/>
<polygon points="199.9,545.3 207.9,546.5 212.5,560.2 205.6,561.3" fill="#8d8a70"/>
<ellipse cx="251.4" cy="579.6" rx="3.2" ry="2.7" transform="rotate(0 251.4 579.6)" fill="#9ea092" />
<ellipse cx="245.7" cy="595.7" rx="3.2" ry="2.7" transform="rotate(0 245.7 595.7)" fill="#9ea092" />
<ellipse cx="186.2" cy="544.2" rx="3.2" ry="2.7" transform="rotate(0 186.2 544.2)" fill="#9ea092" />
<ellipse cx="211.3" cy="560.2" rx="3.2" ry="2.7" transform="rotate(0 211.3 560.2)" fill="#9ea092" />
<path d="M114.1,511.0 C134.7,508.2 143.3,519.0 142.7,528.2 C142.2,537.3 149.6,540.2 159.3,540.2 " fill="none" stroke="#1e1e1e" stroke-width="2.2"/>
<path d="M175.9,553.3 C173.6,567.1 191.9,576.2 203.3,577.4 C214.8,578.5 213.6,568.2 205.6,564.8 " fill="none" stroke="#222" stroke-width="1.8"/>
</g></g>
<g>
<ellipse cx="647.3" cy="995.2" rx="80" ry="48" fill="#f6f6f6" filter="url(#blur6)"/>
<path d="M529.5,978 L556,981 L556,987 L529.5,984 Z" fill="#262626"/>
<rect x="554.6" y="980.5" width="21.4" height="7.7" fill="#8d8a80"/>
<path d="M576,977 H587 L589,975 H624.9 V994.2 H589 L587,992 H576 Z" fill="#3b3d31"/>
<rect x="679.8" y="907.2" width="17.8" height="14" rx="5" fill="#f0bc18"/>
<circle cx="689.3" cy="913.5" r="3" fill="#a8801a"/>
<circle cx="629.7" cy="1020.4" r="9" fill="#f0bc18"/><circle cx="629.7" cy="1020.4" r="3.4" fill="#8a6a1a"/>
<circle cx="753.7" cy="1019.2" r="7" fill="#f0bc18"/><circle cx="754.5" cy="1018.5" r="2.6" fill="#9a7a1a"/>
<circle cx="692.3" cy="983.2" r="67.5" fill="url(#yel)"/>
<rect x="658.3" y="961.4" width="69.7" height="44.7" fill="#c9c9c9"/>
<rect x="661.3" y="964.4" width="64.9" height="39.3" fill="#141414"/>
<rect x="683" y="971.5" width="40" height="3.4" fill="#d9d9d9"/><rect x="664" y="971.5" width="15" height="3" fill="#8a8a8a"/><rect x="683" y="977.5" width="40" height="3.4" fill="#d9d9d9"/><rect x="664" y="977.5" width="15" height="3" fill="#8a8a8a"/><rect x="683" y="983.5" width="40" height="3.4" fill="#d9d9d9"/><rect x="664" y="983.5" width="15" height="3" fill="#8a8a8a"/><rect x="683" y="989.5" width="40" height="3.4" fill="#d9d9d9"/><rect x="664" y="989.5" width="15" height="3" fill="#8a8a8a"/><rect x="683" y="995.5" width="40" height="3.4" fill="#d9d9d9"/><rect x="664" y="995.5" width="15" height="3" fill="#8a8a8a"/>
<rect x="667" y="999" width="55" height="2.5" fill="#7a7a7a"/>
<text x="689" y="945" font-size="5" fill="#c99a12" text-anchor="middle" font-family="Liberation Sans">UPPER</text>
<text x="637" y="988" font-size="5" fill="#c99a12" font-family="Liberation Sans">FRONT</text>
</g>
<g transform="translate(1396,499.8) scale(0.805) translate(-692.3,-983.2)"><g>
<ellipse cx="647.3" cy="995.2" rx="80" ry="48" fill="#f6f6f6" filter="url(#blur6)"/>
<path d="M529.5,978 L556,981 L556,987 L529.5,984 Z" fill="#262626"/>
<rect x="554.6" y="980.5" width="21.4" height="7.7" fill="#8d8a80"/>
<path d="M576,977 H587 L589,975 H624.9 V994.2 H589 L587,992 H576 Z" fill="#3b3d31"/>
<rect x="679.8" y="907.2" width="17.8" height="14" rx="5" fill="#f0bc18"/>
<circle cx="689.3" cy="913.5" r="3" fill="#a8801a"/>
<circle cx="629.7" cy="1020.4" r="9" fill="#f0bc18"/><circle cx="629.7" cy="1020.4" r="3.4" fill="#8a6a1a"/>
<circle cx="753.7" cy="1019.2" r="7" fill="#f0bc18"/><circle cx="754.5" cy="1018.5" r="2.6" fill="#9a7a1a"/>
<circle cx="692.3" cy="983.2" r="67.5" fill="url(#yel)"/>
<rect x="658.3" y="961.4" width="69.7" height="44.7" fill="#c9c9c9"/>
<rect x="661.3" y="964.4" width="64.9" height="39.3" fill="#141414"/>
<rect x="683" y="971.5" width="40" height="3.4" fill="#d9d9d9"/><rect x="664" y="971.5" width="15" height="3" fill="#8a8a8a"/><rect x="683" y="977.5" width="40" height="3.4" fill="#d9d9d9"/><rect x="664" y="977.5" width="15" height="3" fill="#8a8a8a"/><rect x="683" y="983.5" width="40" height="3.4" fill="#d9d9d9"/><rect x="664" y="983.5" width="15" height="3" fill="#8a8a8a"/><rect x="683" y="989.5" width="40" height="3.4" fill="#d9d9d9"/><rect x="664" y="989.5" width="15" height="3" fill="#8a8a8a"/><rect x="683" y="995.5" width="40" height="3.4" fill="#d9d9d9"/><rect x="664" y="995.5" width="15" height="3" fill="#8a8a8a"/>
<rect x="667" y="999" width="55" height="2.5" fill="#7a7a7a"/>
<text x="689" y="945" font-size="5" fill="#c99a12" text-anchor="middle" font-family="Liberation Sans">UPPER</text>
<text x="637" y="988" font-size="5" fill="#c99a12" font-family="Liberation Sans">FRONT</text>
</g></g>
<g>
<rect x="644" y="1244.8" width="178" height="138.4" rx="10" fill="url(#mon1)" stroke="#3f454a" stroke-width="2.2"/>
<rect x="667.3" y="1264.9" width="131.5" height="99" rx="2" fill="#2b2e31"/>
<rect x="670.9" y="1267.2" width="125.6" height="93.6" fill="#e4e7eb"/>
<rect x="670.9" y="1267.2" width="125.6" height="6.5" fill="#2f6fc4"/><rect x="672" y="1268" width="5" height="5" fill="#e9eef3"/>
<rect x="674" y="1277" width="8" height="6" fill="#4b8ad8"/>
<rect x="688" y="1277" width="8" height="6" fill="#4b8ad8"/>
<rect x="702" y="1277" width="8" height="6" fill="#4b8ad8"/>
<rect x="716" y="1277" width="8" height="6" fill="#4b8ad8"/>
<rect x="729" y="1277" width="8" height="6" fill="#4b8ad8"/>
<rect x="741" y="1277" width="8" height="6" fill="#4b8ad8"/>
<rect x="756.3" y="1276.5" width="37" height="15.5" fill="#aecdee" stroke="#6a9fd6" stroke-width="0.6"/>
<rect x="770.4" y="1278.7" width="21.5" height="6.5" fill="#1f6fd0"/>
<rect x="758.1" y="1287.0" width="33.3" height="3" fill="#f4f6f8" stroke="#8fb3dc" stroke-width="0.4"/>
<rect x="717.6" y="1303.5" width="35.6" height="19.4" fill="#aecdee" stroke="#6a9fd6" stroke-width="0.6"/>
<rect x="731.1" y="1305.7" width="20.6" height="6.5" fill="#1f6fd0"/>
<rect x="719.4" y="1317.9" width="32.0" height="3" fill="#f4f6f8" stroke="#8fb3dc" stroke-width="0.4"/>
<rect x="756.3" y="1303.5" width="36.3" height="19.4" fill="#aecdee" stroke="#6a9fd6" stroke-width="0.6"/>
<rect x="770.1" y="1305.7" width="21.1" height="6.5" fill="#1f6fd0"/>
<rect x="758.1" y="1317.9" width="32.7" height="3" fill="#f4f6f8" stroke="#8fb3dc" stroke-width="0.4"/>
<rect x="717.6" y="1326.7" width="35.6" height="20.2" fill="#aecdee" stroke="#6a9fd6" stroke-width="0.6"/>
<rect x="731.1" y="1328.9" width="20.6" height="6.5" fill="#1f6fd0"/>
<rect x="719.4" y="1341.9" width="32.0" height="3" fill="#f4f6f8" stroke="#8fb3dc" stroke-width="0.4"/>
<rect x="756.3" y="1326.7" width="36.3" height="20.2" fill="#aecdee" stroke="#6a9fd6" stroke-width="0.6"/>
<rect x="770.1" y="1328.9" width="21.1" height="6.5" fill="#1f6fd0"/>
<rect x="758.1" y="1341.9" width="32.7" height="3" fill="#f4f6f8" stroke="#8fb3dc" stroke-width="0.4"/>
<rect x="670.9" y="1351" width="125.6" height="9" fill="#f2f2f2"/>
<circle cx="676" cy="1355.5" r="2" fill="#e02020"/><rect x="681" y="1354" width="18" height="3" fill="#e36a3a"/>
<path d="M673,1308 L725,1288 L740,1293 M673,1310 L724,1292 M690,1306 L719,1289 L700,1341 M676,1339 L703,1339 L700,1318 L687,1318 L676,1339 M690,1318 L694,1302 M688,1312 H708 V1320 H688 Z" fill="none" stroke="#e0782e" stroke-width="1.6"/>
<rect x="688" y="1312" width="20" height="8" fill="#e0782e"/>
<text x="664" y="1261" font-size="6" font-weight="bold" fill="#e8edf2" font-family="Liberation Sans">WTSI</text>
<path d="M653,1311 l4,3.5 l-4,3.5 M658,1311 l4,3.5 l-4,3.5 M812,1311 l-4,3.5 l4,3.5 M807,1311 l-4,3.5 l4,3.5" fill="none" stroke="#c9d0d6" stroke-width="1.4"/>
<rect x="653" y="1364" width="9" height="10" fill="none" stroke="#aab2b8" stroke-width="0.8"/>
<rect x="705" y="1370" width="55" height="1.5" fill="#b9c0c6"/>
</g>
<g>
<rect x="1732.3" y="725.4" width="251.4" height="172.5" rx="1.5" fill="#303032"/>
<rect x="1732.3" y="725.4" width="251.4" height="3" fill="#242426"/>
<rect x="1732.3" y="742" width="251.4" height="1.6" fill="#1d1d1f"/>
<rect x="1732.3" y="880" width="251.4" height="1.6" fill="#1d1d1f"/>
<rect x="1759.5" y="753.5" width="198.3" height="120.2" rx="1.5" fill="#3a2a22"/>
<rect x="1761" y="755.5" width="195.3" height="116.7" fill="url(#sky2)"/>
<ellipse cx="1790" cy="790" rx="30" ry="10" fill="#c8ddf0" opacity="0.25"/>
<ellipse cx="1905" cy="795" rx="40" ry="12" fill="#d8e8f5" opacity="0.25"/>
<path d="M1785.0,837.1 L1851.1,781.0 M1793.1,837.1 L1854.1,782.0 M1801.1,838.1 L1855.1,785.0 M1807.1,838.1 L1856.1,788.1" stroke="#3d6fa8" stroke-width="0.8"/>
<polygon points="1784.0,836.1 1808.1,837.1 1815.1,865.2 1784.0,865.2" fill="url(#latt2)"/>
<polygon points="1784.0,836.1 1808.1,837.1 1808.1,842.1 1784.0,841.1" fill="#b0504a"/>
<polygon points="1815.1,867.2 1843.1,867.2 1861.1,771.0 1845.1,779.0" fill="url(#latt)"/>
<polygon points="1843.1,867.2 1851.1,867.2 1873.2,773.0 1860.1,782.0" fill="url(#latt)" opacity="0.85"/>
<polygon points="1845.1,779.0 1861.1,771.0 1859.1,783.0" fill="#7a2222"/>
<polygon points="1839.0,797.1 1856.3,797.1 1853.8,810.1 1834.5,810.1" fill="#8a2a2e" opacity="0.75"/>
<polygon points="1829.1,826.1 1850.8,826.1 1848.6,838.1 1825.0,838.1" fill="#8a2a2e" opacity="0.75"/>
<polygon points="1821.2,849.1 1846.5,849.1 1843.3,866.2 1815.4,866.2" fill="#8a2a2e" opacity="0.75"/>
<polygon points="1863.2,756.0 1865.7,756.0 1862.7,857.2 1859.1,857.2" fill="#e6edf3"/>
<polygon points="1859.1,845.1 1863.2,845.1 1862.7,857.2 1859.1,857.2" fill="#e0a030"/>
<polygon points="1854.1,809.1 1869.2,810.1 1869.2,814.1 1854.1,813.1" fill="#d99a3a"/>
<polygon points="1854.1,856.1 1866.2,856.1 1866.2,859.2 1854.1,859.2" fill="#7a3a2a"/>
<path d="M1865.2,788.1 L1889.2,811.1 M1865.2,788.1 L1851.1,795.1" stroke="#eef2f6" stroke-width="1.3"/>
<polygon points="1915.2,828.1 1923.2,828.1 1923.2,868.2 1915.2,868.2" fill="#3e5a8e"/>
<polygon points="1930.2,829.1 1938.3,829.1 1938.3,868.2 1930.2,868.2" fill="#3e5a8e"/>
<polygon points="1949.8,822.1 1956.3,822.1 1956.3,868.2 1949.8,868.2" fill="#3e5a8e"/>
<polygon points="1900.2,856.1 1911.2,856.1 1911.2,868.2 1900.2,868.2" fill="#6f8a8a"/>
<polygon points="1770.0,865.2 1850.1,865.2 1850.1,870.2 1770.0,870.2" fill="#2a2e33"/>
<polygon points="1870.2,867.2 1956.3,866.2 1956.3,871.2 1870.2,871.2" fill="#2a3238"/>
<polygon points="1771.0,861.2 1789.0,861.2 1789.0,871.2 1771.0,871.2" fill="#8a4a36"/>
<polygon points="1761.0,870.2 1956.3,870.2 1956.3,872.2 1761.0,872.2" fill="#b9c8d6"/>
<text x="1745" y="745" font-size="6.5" font-weight="bold" fill="#e6e6e6" font-family="Liberation Sans">WTZ-A700</text>
<circle cx="1965.5" cy="755.8" r="2.2" fill="#22b14c"/>
<rect x="1969" y="754.5" width="6" height="2.5" fill="#9a9a9a"/><circle cx="1965.5" cy="767" r="1.2" fill="#111"/><rect x="1969" y="765.8" width="6" height="2.5" fill="#9a9a9a"/>
</g>
</svg>
<div class="t title" style="left:161.3px;top:58.6px;transform:scale(0.9936,0.8962)">高架门机</div>
<div class="t title" style="left:1200.5px;top:58.0px;transform:scale(1.0117,0.9020)">浮式回转吊</div>
<div class="t lab" style="left:164.3px;top:375.5px;transform:scale(0.9924,0.8971)">风速传感器</div>
<div class="t lab" style="left:562.0px;top:351.4px;transform:scale(0.9855,0.9294)">板环传感器</div>
<div class="t lab" style="left:99.0px;top:628.1px;transform:scale(0.9874,0.8471)">SHL测力传感器</div>
<div class="t lab" style="left:580.2px;top:1080.3px;transform:scale(0.9757,0.8829)">角度传感器</div>
<div class="t lab" style="left:664.7px;top:1403.5px;transform:scale(0.9825,0.9118)">监测仪表</div>
<div class="t lab" style="left:1299.4px;top:351.2px;transform:scale(0.9832,0.9118)">板环传感器</div>
<div class="t lab" style="left:1299.4px;top:603.4px;transform:scale(0.9832,0.8914)">角度传感器</div>
<div class="t lab" style="left:1772.0px;top:341.2px;transform:scale(0.9884,0.9176)">风速传感器</div>
<div class="t lab" style="left:1739.8px;top:604.3px;transform:scale(0.9774,0.8735)">SHL测力传感器</div>
<div class="t lab" style="left:1740.0px;top:1185.6px;transform:scale(0.9791,0.8971)">SHL测力传感器</div>
<div class="t lab" style="left:1789.5px;top:927.4px;transform:scale(0.9832,0.9265)">监测仪表</div>
</body></html>
